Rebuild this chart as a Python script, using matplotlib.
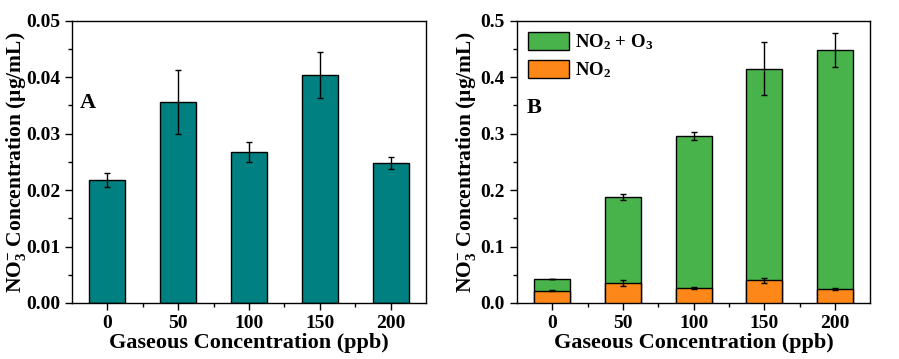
import matplotlib
matplotlib.use("Agg")
import matplotlib.pyplot as plt
import numpy as np
from matplotlib.patches import Patch

plt.rcParams['font.family'] = ['Liberation Serif', 'DejaVu Serif']
plt.rcParams['font.weight'] = 'bold'
plt.rcParams['mathtext.fontset'] = 'custom'
plt.rcParams['mathtext.rm'] = 'Liberation Serif:bold'
plt.rcParams['mathtext.bf'] = 'Liberation Serif:bold'
plt.rcParams['mathtext.it'] = 'Liberation Serif:bold'
plt.rcParams['mathtext.default'] = 'bf'

categories = ['0', '50', '100', '150', '200']
no2_vals = [0.0218, 0.0356, 0.0268, 0.0404, 0.0248]
no2_err = [0.0012, 0.0056, 0.0018, 0.0041, 0.0010]
no2o3_vals = [0.0426, 0.188, 0.296, 0.415, 0.449]
no2o3_err = [0.0, 0.0055, 0.007, 0.047, 0.030]

teal = '#008080'
green = '#47b34a'
orange = '#fd8718'

fig = plt.figure(figsize=(8.99, 3.59), dpi=100)
axA = fig.add_axes([0.080, 0.156, 0.394, 0.786])
axB = fig.add_axes([0.575, 0.156, 0.393, 0.786])

x = np.arange(len(categories))
w = 0.51
ekw = dict(ecolor='black', elinewidth=1.0, capsize=2.5, capthick=1.0)

axA.bar(x, no2_vals, width=w, color=teal, edgecolor='black', linewidth=1.0,
        yerr=no2_err, error_kw=ekw, zorder=2)
axB.bar(x, no2o3_vals, width=w, color=green, edgecolor='black', linewidth=1.0,
        yerr=no2o3_err, error_kw=ekw, zorder=2, label=r'NO$_2$ + O$_3$')
axB.bar(x, no2_vals, width=w, color=orange, edgecolor='black', linewidth=1.0,
        yerr=no2_err, error_kw=ekw, zorder=3, label=r'NO$_2$')

ylabel = r'NO$_3^{\mathbf{-}}$ Concentration (μg/mL)'
for ax, top, step, fmt, lx in [(axA, 0.05, 0.01, '{:.2f}', -0.158),
                               (axB, 0.5, 0.1, '{:.1f}', -0.145)]:
    ax.set_xlim(-0.5, 4.5)
    ax.set_ylim(0, top)
    ax.set_xticks(x)
    ax.set_xticklabels(categories)
    ax.set_xticks(x[:-1] + 0.5, minor=True)
    yt = np.round(np.arange(0, top + step / 2, step), 3)
    ax.set_yticks(yt)
    ax.set_yticklabels([fmt.format(v) for v in yt])
    ax.set_yticks(np.round(np.arange(step / 2, top, step), 4), minor=True)
    ax.tick_params(axis='both', which='major', direction='out', length=5, width=1,
                   labelsize=14, top=False, right=False)
    ax.tick_params(axis='both', which='minor', direction='out', length=3, width=1,
                   top=False, right=False)
    for s in ax.spines.values():
        s.set_linewidth(1.0)
    ax.set_xlabel('Gaseous Concentration (ppb)', fontsize=16, fontweight='bold', labelpad=1)
    ax.set_ylabel(ylabel, fontsize=15.5, fontweight='bold', va='center')
    ax.yaxis.set_label_coords(lx, 0.5)

axA.text(0.022, 0.71, 'A', transform=axA.transAxes, fontsize=16, fontweight='bold', va='center')
axB.text(0.028, 0.69, 'B', transform=axB.transAxes, fontsize=16, fontweight='bold', va='center')

handles = [Patch(facecolor=green, edgecolor='black', linewidth=1.0, label=r'NO$_2$ + O$_3$'),
           Patch(facecolor=orange, edgecolor='black', linewidth=1.0, label=r'NO$_2$')]
axB.legend(handles=handles, loc='upper left', frameon=False,
           handlelength=2.2, handleheight=1.1, handletextpad=0.3, labelspacing=0.4,
           borderaxespad=0.1, borderpad=0.5, prop={'weight': 'bold', 'size': 13.5})

fig.savefig('out.png', dpi=100)
